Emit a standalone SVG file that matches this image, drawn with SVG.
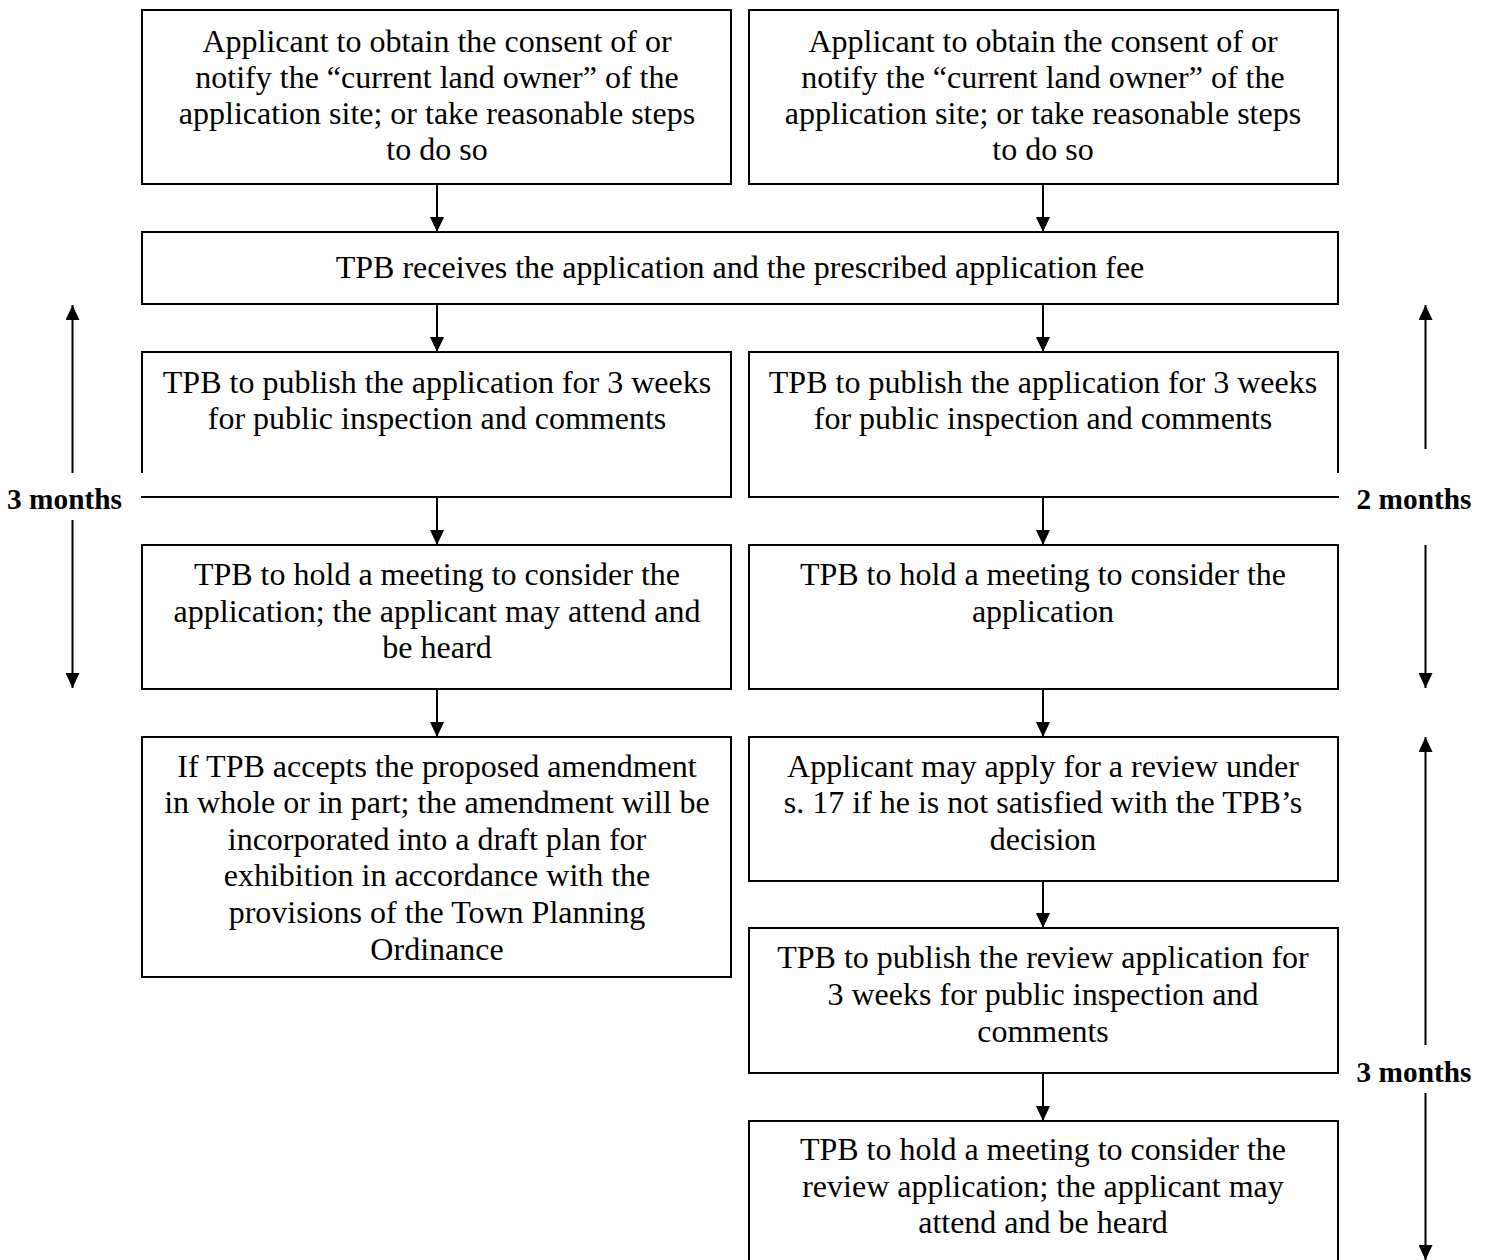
<svg xmlns="http://www.w3.org/2000/svg" width="1490" height="1260" viewBox="0 0 1490 1260">
<style>
.box{fill:#fff;stroke:#000;stroke-width:2}
.t{font-family:"Liberation Serif","Times New Roman",serif;font-size:32px;fill:#000;text-anchor:middle}
.lab{font-family:"Liberation Serif","Times New Roman",serif;font-size:29.3px;font-weight:bold;fill:#000;text-anchor:middle}
.c{stroke:#000;stroke-width:2;fill:none;marker-end:url(#av)}
</style>
<defs>
<marker id="av" markerUnits="userSpaceOnUse" markerWidth="16" markerHeight="14" refX="15" refY="7" orient="auto" viewBox="0 0 16 14">
<path d="M0,0 L15,7 L0,14 Z" fill="#000"/>
</marker>
</defs>
<rect width="1490" height="1260" fill="#fff"/>

<g id="n1"><rect class="box" x="142" y="10" width="589" height="174"/>
<text class="t"><tspan x="437" y="52">Applicant to obtain the consent of or</tspan><tspan x="437" y="88">notify the “current land owner” of the</tspan><tspan x="437" y="124">application site; or take reasonable steps</tspan><tspan x="437" y="160">to do so</tspan></text></g>

<g id="n2"><rect class="box" x="749" y="10" width="589" height="174"/>
<text class="t"><tspan x="1043" y="52">Applicant to obtain the consent of or</tspan><tspan x="1043" y="88">notify the “current land owner” of the</tspan><tspan x="1043" y="124">application site; or take reasonable steps</tspan><tspan x="1043" y="160">to do so</tspan></text></g>

<g id="n3"><rect class="box" x="142" y="232" width="1196" height="72"/>
<text class="t" x="740" y="278">TPB receives the application and the prescribed application fee</text></g>

<g id="n4"><rect class="box" x="142" y="352" width="589" height="145"/>
<text class="t"><tspan x="437" y="393">TPB to publish the application for 3 weeks</tspan><tspan x="437" y="429">for public inspection and comments</tspan></text></g>

<g id="n5"><rect class="box" x="749" y="352" width="589" height="145"/>
<text class="t"><tspan x="1043" y="393">TPB to publish the application for 3 weeks</tspan><tspan x="1043" y="429">for public inspection and comments</tspan></text></g>

<g id="n6"><rect class="box" x="142" y="545" width="589" height="144"/>
<text class="t"><tspan x="437" y="585">TPB to hold a meeting to consider the</tspan><tspan x="437" y="622">application; the applicant may attend and</tspan><tspan x="437" y="658">be heard</tspan></text></g>

<g id="n7"><rect class="box" x="749" y="545" width="589" height="144"/>
<text class="t"><tspan x="1043" y="585">TPB to hold a meeting to consider the</tspan><tspan x="1043" y="622">application</tspan></text></g>

<g id="n8"><rect class="box" x="142" y="737" width="589" height="240"/>
<text class="t"><tspan x="437" y="777">If TPB accepts the proposed amendment</tspan><tspan x="437" y="813">in whole or in part; the amendment will be</tspan><tspan x="437" y="850">incorporated into a draft plan for</tspan><tspan x="437" y="886">exhibition in accordance with the</tspan><tspan x="437" y="923">provisions of the Town Planning</tspan><tspan x="437" y="960">Ordinance</tspan></text></g>

<g id="n9"><rect class="box" x="749" y="737" width="589" height="144"/>
<text class="t"><tspan x="1043" y="777">Applicant may apply for a review under</tspan><tspan x="1043" y="813">s. 17 if he is not satisfied with the TPB’s</tspan><tspan x="1043" y="850">decision</tspan></text></g>

<g id="n10"><rect class="box" x="749" y="928" width="589" height="145"/>
<text class="t"><tspan x="1043" y="968">TPB to publish the review application for</tspan><tspan x="1043" y="1005">3 weeks for public inspection and</tspan><tspan x="1043" y="1042">comments</tspan></text></g>

<g id="n11"><rect class="box" x="749" y="1121" width="589" height="160"/>
<text class="t"><tspan x="1043" y="1160">TPB to hold a meeting to consider the</tspan><tspan x="1043" y="1197">review application; the applicant may</tspan><tspan x="1043" y="1233">attend and be heard</tspan></text></g>

<g id="connectors">
<line class="c" x1="437" y1="185" x2="437" y2="232"/>
<line class="c" x1="1043" y1="185" x2="1043" y2="232"/>
<line class="c" x1="437" y1="305" x2="437" y2="352"/>
<line class="c" x1="1043" y1="305" x2="1043" y2="352"/>
<line class="c" x1="437" y1="498" x2="437" y2="545"/>
<line class="c" x1="1043" y1="498" x2="1043" y2="545"/>
<line class="c" x1="437" y1="690" x2="437" y2="737"/>
<line class="c" x1="1043" y1="690" x2="1043" y2="737"/>
<line class="c" x1="1043" y1="882" x2="1043" y2="928"/>
<line class="c" x1="1043" y1="1074" x2="1043" y2="1121"/>
</g>

<g id="duration-3m-left">
<line class="c" x1="72.5" y1="473" x2="72.5" y2="305"/>
<line class="c" x1="72.5" y1="520" x2="72.5" y2="688"/>
<rect x="0" y="473" width="143" height="23" fill="#fff"/>
<text class="lab" x="64.5" y="509">3 months</text>
</g>
<g id="duration-2m">
<line class="c" x1="1425.5" y1="449" x2="1425.5" y2="305"/>
<line class="c" x1="1425.5" y1="545" x2="1425.5" y2="688"/>
<rect x="1337" y="473" width="153" height="23" fill="#fff"/>
<text class="lab" x="1414" y="509">2 months</text>
</g>
<g id="duration-3m-right">
<line class="c" x1="1425.5" y1="1045" x2="1425.5" y2="737"/>
<line class="c" x1="1425.5" y1="1093" x2="1425.5" y2="1260"/>
<text class="lab" x="1414" y="1082">3 months</text>
</g>
</svg>
